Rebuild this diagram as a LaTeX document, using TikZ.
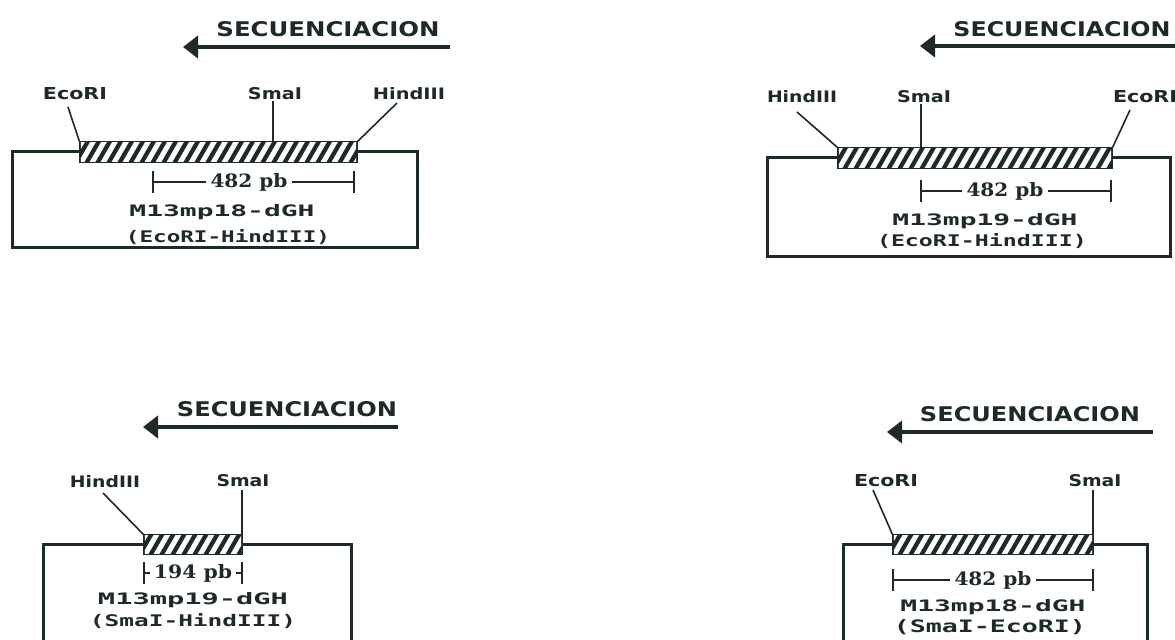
\documentclass[tikz,border=0pt]{standalone}
\usepackage{fontspec}
\usepackage{graphicx}
\usetikzlibrary{arrows.meta,calc}
\newfontfamily\labfont{DejaVu Sans}
\newfontfamily\monfont{DejaVu Sans Mono}
\newfontfamily\dimfont{DejaVu Serif}
\newlength\px
\setlength\px{0.5pt}
\newcommand\fitt[3]{\resizebox{#1\px}{#2\px}{#3}}
\definecolor{ink}{RGB}{30,42,40}
% hatched insert: name, x1, y1, x2, y2
\newcommand\hatchbar[5]{%
  \node[barnode, minimum width={(#4-#2)*0.5pt}, minimum height={(#5-#3)*0.5pt}]
    (#1) at ({(#2+#4)/2},{(#3+#5)/2}) {};
  \begin{scope}
    \clip ($(#1.south west)+(1.5,-1.5)$) rectangle ($(#1.north east)+(-1.5,1.5)$);
    \foreach \i in {-22,-11,...,300}
      \draw[white, line width=2.5pt] ($(#1.south west)+(\i,3)$) -- ++(15,-26);
  \end{scope}}
\newcommand\dimline[4]{% name, xl, xr, y
  \coordinate (#1l) at (#2,#4);
  \coordinate (#1r) at (#3,#4);
  \draw[thin line] ($(#1l)+(0,-11)$) -- ($(#1l)+(0,11)$);
  \draw[thin line] ($(#1r)+(0,-11)$) -- ($(#1r)+(0,11)$);
  \draw[thin line] (#1l) -- (#1t.west);
  \draw[thin line] (#1t.east) -- (#1r);}
\tikzset{
  lab/.style={inner sep=0pt, text=ink, font=\labfont\bfseries},
  mono/.style={inner sep=0pt, text=ink, font=\monfont\bfseries},
  dimtxt/.style={inner sep=0pt, inner xsep=2pt, text=ink, font=\dimfont\bfseries},
  boxline/.style={draw=ink, line width=1.5pt, line join=miter},
  thin line/.style={draw=ink, line width=0.8pt},
  seq/.style={draw=ink, line width=2pt, -{Triangle[length=7.5pt,width=11pt]}},
  barnode/.style={fill=ink, draw=ink, line width=0.6pt, inner sep=0pt}
}
\begin{document}
\begin{tikzpicture}[x=0.5pt,y=-0.5pt]
\useasboundingbox[fill=white] (0,0) rectangle (1175,640);

% ================= Panel 1 =================
\node[lab] (p1t) at (328,29) {\fitt{223}{15}{SECUENCIACION}};
\coordinate (p1a0) at (450,47);
\coordinate (p1a1) at (183,47);
\draw[seq] (p1a0) -- (p1a1);
\node[lab] (p1eco) at (75,94) {\fitt{64}{12}{EcoRI}};
\node[lab] (p1sma) at (275,94) {\fitt{54}{12}{SmaI}};
\node[lab] (p1hin) at (409,94) {\fitt{72}{12}{HindIII}};
\hatchbar{b1}{80}{142}{357}{162}
\draw[boxline] (b1.west) -- (12,152) -- (12,248) -- (417,248) -- (417,152) -- (b1.east);
\coordinate (p1ecoL) at (68,107);
\coordinate (p1smaL) at (273,101);
\coordinate (p1hinL) at (397,103);
\draw[thin line] (p1ecoL) -- (b1.north west);
\draw[thin line] (p1smaL) -- (p1smaL |- b1.north);
\draw[thin line] (p1hinL) -- (b1.north east);
\node[dimtxt] (p1dt) at (249,182) {\fitt{77}{14}{482 pb}};
\dimline{p1d}{153}{354}{182}
\node[mono] (p1n) at (222,212) {\fitt{185}{12}{M13mp18-dGH}};
\node[mono] (p1s) at (228,237) {\fitt{204}{13}{(EcoRI-HindIII)}};

% ================= Panel 2 =================
\node[lab] (p2t) at (1062,29) {\fitt{217}{15}{SECUENCIACION}};
\coordinate (p2a0) at (1180,46);
\coordinate (p2a1) at (920,46);
\draw[seq] (p2a0) -- (p2a1);
\node[lab] (p2hin) at (802,97) {\fitt{70}{12}{HindIII}};
\node[lab] (p2sma) at (924,97) {\fitt{54}{12}{SmaI}};
\node[lab] (p2eco) at (1145,97) {\fitt{64}{12}{EcoRI}};
\hatchbar{b2}{838}{148}{1112}{168}
\draw[boxline] (b2.west) -- (767,158) -- (767,257) -- (1170,257) -- (1170,158) -- (b2.east);
\coordinate (p2hinL) at (797,112);
\coordinate (p2smaL) at (921,104);
\coordinate (p2ecoL) at (1130,110);
\draw[thin line] (p2hinL) -- (b2.north west);
\draw[thin line] (p2smaL) -- (p2smaL |- b2.north);
\draw[thin line] (p2ecoL) -- (b2.north east);
\node[dimtxt] (p2dt) at (1005,191) {\fitt{77}{14}{482 pb}};
\dimline{p2d}{921}{1111}{191}
\node[mono] (p2n) at (985,221) {\fitt{185}{12}{M13mp19-dGH}};
\node[mono] (p2s) at (982,241) {\fitt{210}{13}{(EcoRI-HindIII)}};

% ================= Panel 3 =================
\node[lab] (p3t) at (287,409) {\fitt{220}{15}{SECUENCIACION}};
\coordinate (p3a0) at (398,427);
\coordinate (p3a1) at (143,427);
\draw[seq] (p3a0) -- (p3a1);
\node[lab] (p3hin) at (105,482) {\fitt{70}{12}{HindIII}};
\node[lab] (p3sma) at (243,481) {\fitt{53}{12}{SmaI}};
\hatchbar{b3}{144}{535}{242}{554}
\draw[boxline] (b3.west) -- (43,544.5) -- (43,660);
\draw[boxline] (b3.east) -- (351,544.5) -- (351,660);
\coordinate (p3hinL) at (103,493);
\coordinate (p3smaL) at (242,490);
\draw[thin line] (p3hinL) -- (b3.north west);
\draw[thin line] (p3smaL) -- (p3smaL |- b3.north);
\node[dimtxt] (p3dt) at (193,573) {\fitt{78}{14}{194 pb}};
\dimline{p3d}{144}{242}{573}
\node[mono] (p3n) at (193,600) {\fitt{190}{12}{M13mp19-dGH}};
\node[mono] (p3s) at (193,621) {\fitt{206}{13}{(SmaI-HindIII)}};

% ================= Panel 4 =================
\node[lab] (p4t) at (1030,414) {\fitt{220}{15}{SECUENCIACION}};
\coordinate (p4a0) at (1153,432);
\coordinate (p4a1) at (887,432);
\draw[seq] (p4a0) -- (p4a1);
\node[lab] (p4eco) at (886,481) {\fitt{64}{12}{EcoRI}};
\node[lab] (p4sma) at (1095,481) {\fitt{53}{12}{SmaI}};
\hatchbar{b4}{893}{535}{1093}{554}
\draw[boxline] (b4.west) -- (843,544.5) -- (843,660);
\draw[boxline] (b4.east) -- (1147,544.5) -- (1147,660);
\coordinate (p4ecoL) at (873,490);
\coordinate (p4smaL) at (1093,490);
\draw[thin line] (p4ecoL) -- (b4.north west);
\draw[thin line] (p4smaL) -- (p4smaL |- b4.north);
\node[dimtxt] (p4dt) at (993,580) {\fitt{77}{14}{482 pb}};
\dimline{p4d}{893}{1093}{580}
\node[mono] (p4n) at (993,607) {\fitt{185}{12}{M13mp18-dGH}};
\node[mono] (p4s) at (990,627) {\fitt{192}{13}{(SmaI-EcoRI)}};
\end{tikzpicture}
\end{document}
